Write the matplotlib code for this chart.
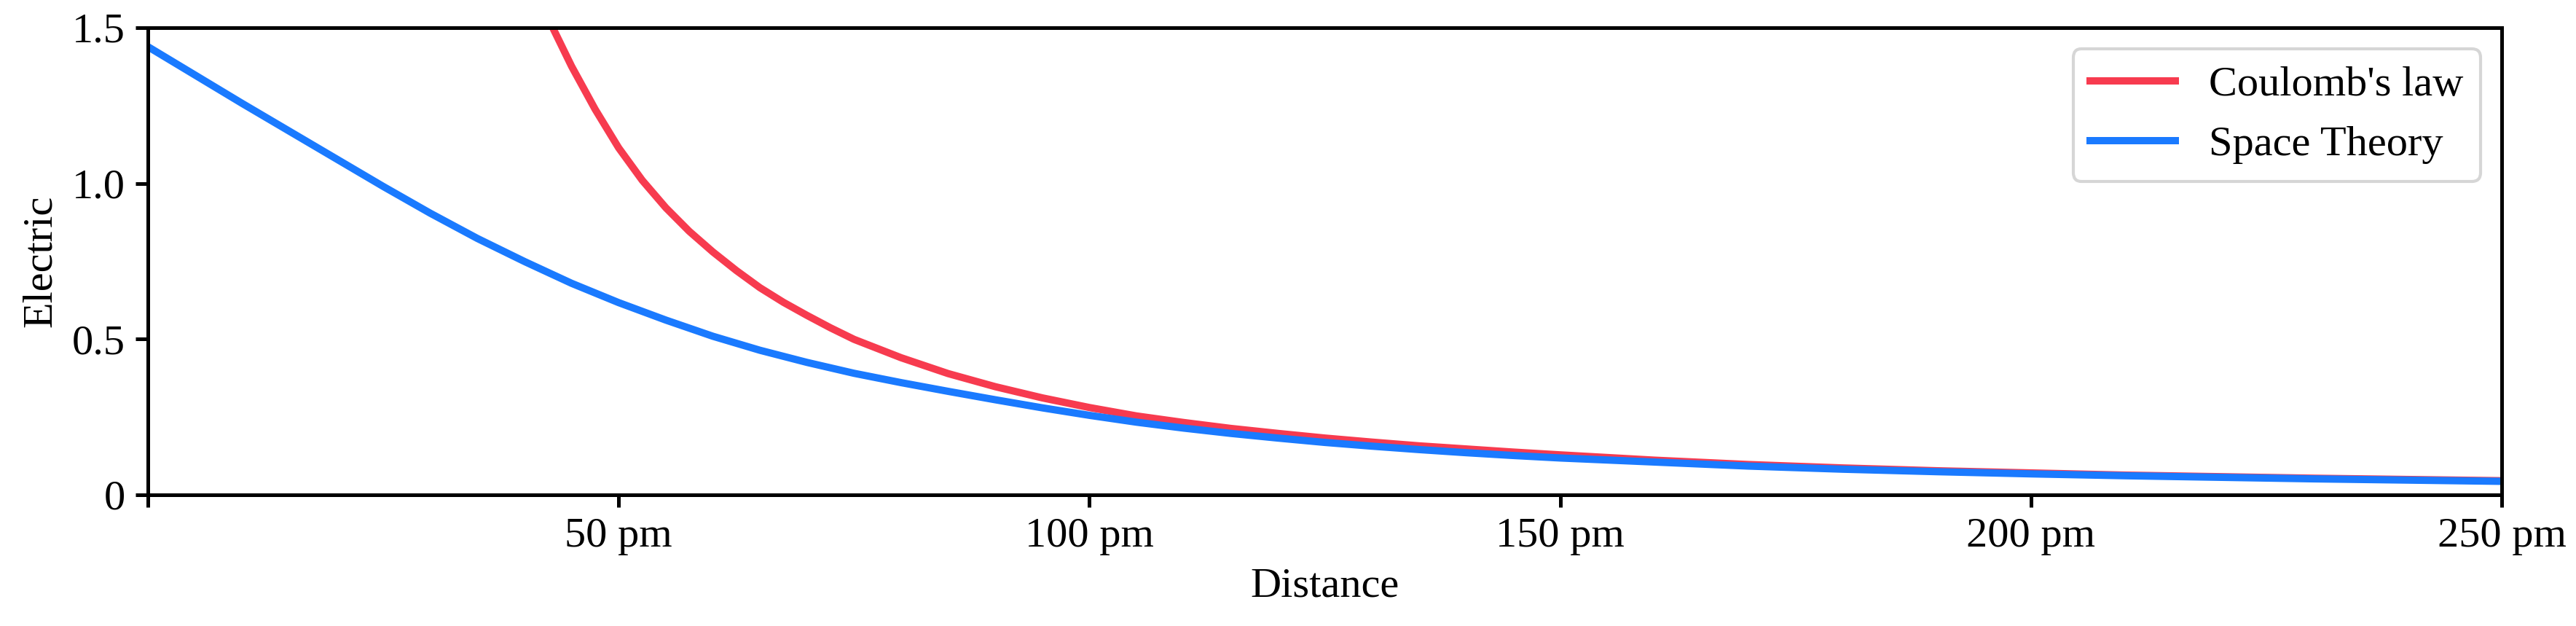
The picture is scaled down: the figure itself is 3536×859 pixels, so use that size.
import matplotlib
matplotlib.use('Agg')
import matplotlib.pyplot as plt
from matplotlib.ticker import FixedLocator, FixedFormatter

plt.rcParams['font.family'] = ['Liberation Serif', 'DejaVu Serif']
plt.rcParams['font.size'] = 14

# values
coulomb_x = [43, 45, 47.5, 50, 52.5, 55, 57.5, 60, 62.5, 65, 67.5, 70, 72.5, 75,
             80, 85, 90, 95, 100, 105, 110, 115, 120, 125, 130, 135, 140, 145, 150,
             160, 170, 180, 190, 200, 210, 220, 230, 240, 250]
coulomb_y = [1.50, 1.376, 1.238, 1.114, 1.010, 0.922, 0.846, 0.780, 0.720, 0.665, 0.618, 0.576, 0.536, 0.499,
             0.440, 0.389, 0.347, 0.311, 0.280, 0.253, 0.232, 0.213, 0.197, 0.182, 0.169, 0.157, 0.147, 0.137, 0.128,
             0.111, 0.097, 0.086, 0.077, 0.070, 0.063, 0.058, 0.053, 0.049, 0.045]

space_x = [0, 5, 10, 15, 20, 25, 30, 35, 40, 45, 50, 55, 60, 65, 70, 75,
           80, 85, 90, 95, 100, 105, 110, 115, 120, 125, 130, 135, 140, 145, 150,
           160, 170, 180, 190, 200, 210, 220, 230, 240, 250]
space_y = [1.439, 1.348, 1.257, 1.168, 1.079, 0.990, 0.904, 0.823, 0.749, 0.679, 0.617, 0.561, 0.509, 0.464, 0.425, 0.390,
           0.360, 0.332, 0.305, 0.279, 0.255, 0.233, 0.214, 0.197, 0.182, 0.168, 0.156, 0.145, 0.135, 0.126, 0.118,
           0.105, 0.092, 0.082, 0.074, 0.067, 0.061, 0.056, 0.051, 0.047, 0.043]

x_ticks = [0, 50, 100, 150, 200, 250]
x_labels = ['', '50 pm', '100 pm', '150 pm', '200 pm', '250 pm']
y_ticks = [0, 0.5, 1.0, 1.5]
y_labels = ['0', '0.5', '1.0', '1.5']

fig = plt.figure(figsize=(3536 / 300, 859 / 300), dpi=300)
ax = fig.add_axes([0.0574, 0.2097, 0.9138, 0.7461])

ax.plot(coulomb_x, coulomb_y, color='#F73B4F', lw=2.4, label="Coulomb's law")
ax.plot(space_x, space_y, color='#1A7AFF', lw=2.4, label='Space Theory')

ax.set_xlim(0, 250)
ax.set_ylim(0, 1.5)
ax.xaxis.set_major_locator(FixedLocator(x_ticks))
ax.xaxis.set_major_formatter(FixedFormatter(x_labels))
ax.yaxis.set_major_locator(FixedLocator(y_ticks))
ax.yaxis.set_major_formatter(FixedFormatter(y_labels))
ax.tick_params(width=1.2, length=4.0)
for s in ax.spines.values():
    s.set_linewidth(1.2)

ax.set_xlabel('Distance')
ax.set_ylabel('Electric')
ax.legend(loc='upper right')

fig.savefig('out.png', dpi=300)
